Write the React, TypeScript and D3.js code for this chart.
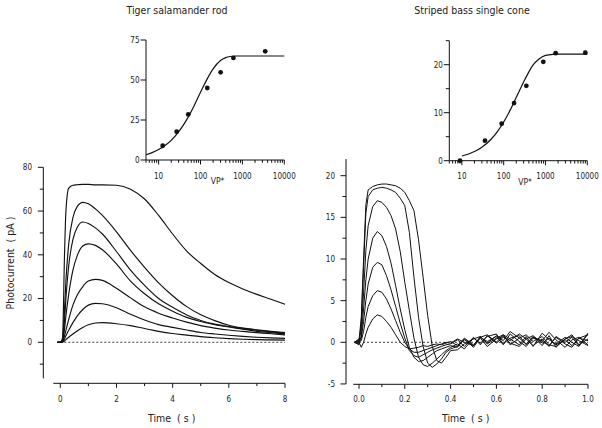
import React from 'react';
import * as d3 from 'd3';

// ---------- Inset data ----------
const rodIntensity = [12.5, 27, 51, 145, 302, 610, 3500];
const rodAmplitude = [8.9, 17.7, 28.5, 45, 54.8, 63.8, 67.9];
const rodFitX = [5, 7, 10, 15, 20, 30, 40, 50, 70, 100, 150, 200, 300, 400, 500, 700, 1000, 10000];
const rodFitY = [3.3, 4.6, 6.5, 9.5, 12.3, 17.6, 22.3, 26.5, 33.8, 42.3, 51.5, 57.0, 62.2, 64.0, 64.7, 65, 65, 65];

const coneIntensity = [9, 35.7, 89.5, 177, 348, 887, 1750, 8970];
const coneAmplitude = [0, 4.17, 7.7, 12.0, 15.6, 20.6, 22.4, 22.5];
const coneFitX = [10, 15, 20, 30, 50, 70, 100, 150, 200, 300, 400, 500, 700, 1000, 1500, 2000, 10000];
const coneFitY = [0.98, 1.45, 1.91, 2.8, 4.47, 6.0, 8.05, 10.9, 13.2, 16.4, 18.5, 19.9, 21.2, 21.95, 22.17, 22.2, 22.2];

const logTickValues = [10, 100, 1000, 10000];
const logTickLabels = ['10', '100', '1000', '10000'];
const rodInsetYTicks = [0, 25, 50, 75];
const coneInsetYMajor = [0, 10, 20];
const coneInsetYMinor = [5, 15, 25];

// ---------- Rod traces ----------
const rodTime = [-0.1, 0, 0.08, 0.15, 0.2, 0.3, 0.45, 0.6, 0.8, 1.0, 1.25, 1.5, 2, 2.5, 3, 3.5, 4, 4.5, 5, 5.5, 6, 6.5, 7, 7.5, 8];
const rodTrace1 = [0, 0, 2, 40, 60, 70.5, 71.8, 72, 72.2, 72.2, 72, 72, 71.8, 70, 65.5, 58, 49.5, 41.7, 36, 31, 27.3, 24.4, 21.9, 19.7, 17.4];
const rodTrace2 = [0, 0, 1, 15, 28, 45, 57, 62, 64, 63.3, 61, 58, 50.5, 42, 34.3, 27.2, 21.3, 16.3, 12.6, 9.9, 7.8, 6.5, 5.7, 5, 4.4];
const rodTrace3 = [0, 0, 0.8, 10, 20, 35, 47, 52.5, 55, 54.3, 52.3, 49.5, 41.5, 33, 26, 20, 16, 12.5, 10, 8.3, 7.2, 6.4, 5.5, 4.8, 4.1];
const rodTrace4 = [0, 0, 0.5, 6, 12, 22, 33, 39.5, 44, 45, 44.3, 42.3, 35.8, 28, 22.2, 17.6, 14.2, 11.4, 9.5, 8, 7, 6, 5, 4.4, 3.8];
const rodTrace5 = [0, 0, 0.3, 3, 5.5, 10.5, 17, 21.5, 25.5, 28, 28.8, 28.3, 24.7, 20.3, 16.2, 13.3, 11.1, 9.2, 7.6, 6.5, 5.6, 5, 4.4, 3.9, 3.4];
const rodTrace6 = [0, 0, 0.2, 1.5, 3, 5.5, 9, 12, 15, 17, 17.8, 17.6, 15.8, 12.8, 10.2, 8.1, 6.8, 5.6, 4.5, 3.8, 3.2, 2.7, 2.3, 2, 1.8];
const rodTrace7 = [0, 0, 0.1, 0.6, 1.2, 2.3, 3.8, 5.2, 6.8, 8, 8.8, 9, 8.5, 7.6, 6.3, 5, 4, 3.3, 2.6, 2.1, 1.7, 1.4, 1.2, 1.1, 1];
const rodTraces = [rodTrace1, rodTrace2, rodTrace3, rodTrace4, rodTrace5, rodTrace6, rodTrace7];
const rodXMajor = [0, 2, 4, 6, 8];
const rodXMinor = [1, 3, 5, 7];
const rodYMajor = [0, 20, 40, 60, 80];
const rodYMinor = [-10, 10, 30, 50, 70];

// ---------- Cone traces ----------
const coneTime = [-0.02, 0, 0.01, 0.02, 0.03, 0.04, 0.06, 0.08, 0.10, 0.12, 0.14, 0.16, 0.18, 0.20, 0.22, 0.24, 0.26, 0.28, 0.30, 0.32, 0.34, 0.36, 0.38, 0.40, 0.43, 0.46, 0.50, 0.53, 0.56, 0.60, 0.63, 0.66, 0.70, 0.73, 0.76, 0.80, 0.83, 0.86, 0.90, 0.93, 0.96, 1.00];
const coneTrace1 = [0, 0.2, 3, 10, 16.5, 18.3, 18.7, 18.9, 19, 19, 18.9, 18.8, 18.5, 18, 17, 15.8, 12.3, 7.8, 3.2, -0.5, -2.2, -2.5, -1.8, -1.0, -0.9, -0.2, 0.4, 0.7, -0.1, 0.8, 0.2, 1.3, 0.5, -0.2, 0.6, 0.1, -0.4, 0.6, -0.2, -0.6, 0.5, 0.9];
const coneTrace2 = [0, -0.2, 2.5, 9, 15.5, 17.5, 18.3, 18.5, 18.6, 18.5, 18.3, 18, 17.3, 16.4, 13.2, 7.8, 3, -0.5, -2.5, -3, -2.6, -2, -1.2, -0.8, -0.5, 0.3, -0.4, 0.6, 0.9, 0.0, 0.9, 0.4, -0.3, 0.7, -0.5, 1.1, 0.3, -0.2, 0.6, 0.0, -0.5, 1.0];
const coneTrace3 = [0, 0.3, 1.5, 6, 11, 14, 16.3, 17, 16.8, 16.2, 15.2, 13.6, 10.9, 7.2, 3.8, 0.5, -1.8, -2.7, -2.9, -2.5, -2, -1.5, -1, -0.6, -0.2, -0.8, 0.5, -0.1, 0.7, 1.0, -0.2, 0.5, 0.8, -0.3, 0.7, -0.4, 0.8, -0.6, 0.4, 0.9, -0.3, 0.4];
const coneTrace4 = [0, -0.3, 0.8, 4, 7.5, 10, 12.5, 13.3, 12.8, 11.5, 9.5, 6.8, 4, 1.5, -0.6, -1.8, -2.3, -2.2, -1.8, -1.4, -1, -0.8, -0.6, -0.4, -0.6, 0.4, -0.6, 0.6, 0.1, 0.7, -0.3, 1.0, 0.1, -0.5, 0.5, 0.2, 1.2, 0.3, -0.6, 0.3, 0.6, -0.3];
const coneTrace5 = [0, 0.4, 0.5, 2.5, 5, 7, 9, 9.6, 9.3, 8, 6.3, 4.3, 2.3, 0.5, -1, -1.6, -1.8, -1.5, -1.2, -0.9, -0.7, -0.5, -0.3, -0.2, 0.3, -0.5, 0.6, -0.3, 0.8, -0.1, 0.6, 0.2, 1.0, 0.4, -0.4, 0.4, -0.5, 0.7, 0.0, 0.6, -0.4, 1.1];
const coneTrace6 = [0, 0.1, 0.2, 1.3, 3, 4.3, 5.6, 6.2, 6, 5.2, 4, 2.6, 1.2, 0, -0.8, -1.2, -1.2, -1, -0.8, -0.6, -0.4, -0.2, 0, -0.1, 0.4, 0.0, -0.4, 0.7, -0.2, 0.5, 0.9, -0.3, 0.5, 0.9, 0.1, 0.7, -0.3, -0.5, 0.4, 0.7, 0.2, -0.4];
const coneTrace7 = [0, 0, -0.6, 0, 1, 1.8, 2.8, 3.3, 3.1, 2.5, 1.8, 0.9, 0, -0.5, -0.8, -0.7, -0.6, -0.4, -0.5, -0.3, -0.2, -0.3, -0.1, 0.1, -0.4, 0.5, -0.3, 0.5, -0.5, 0.4, 0.7, -0.1, -0.5, 0.4, 0.8, -0.1, 0.5, -0.3, 0.3, -0.4, 0.5, 0.2];
const coneTraces = [coneTrace1, coneTrace2, coneTrace3, coneTrace4, coneTrace5, coneTrace6, coneTrace7];
const coneXMajor = [0, 0.2, 0.4, 0.6, 0.8, 1.0];
const coneXMinor = [0.1, 0.3, 0.5, 0.7, 0.9];
const coneYMajor = [-5, 0, 5, 10, 15, 20];
const coneYMinor = [-2.5, 2.5, 7.5, 12.5, 17.5];

const FONT = "'DejaVu Sans Condensed', 'DejaVu Sans', sans-serif";
const INK = '#111';

function YAxis({ scale, x, from, to, major, minor, labels, labelX, fs }: any) {
  return (
    <g>
      <line x1={x} x2={x} y1={from} y2={to} stroke={INK} strokeWidth={1} />
      {major.map((v: number, i: number) => (
        <g key={'M' + i}>
          <line x1={x - 5.5} x2={x} y1={scale(v)} y2={scale(v)} stroke={INK} strokeWidth={1} />
          {labels ? (
            <text x={labelX} y={scale(v) + fs * 0.36} textAnchor="end" fontSize={fs} fontFamily={FONT} fill="#222">
              {labels[i]}
            </text>
          ) : null}
        </g>
      ))}
      {minor.map((v: number, i: number) => (
        <line key={'m' + i} x1={x - 3.5} x2={x} y1={scale(v)} y2={scale(v)} stroke={INK} strokeWidth={1} />
      ))}
    </g>
  );
}

function XAxis({ scale, y, from, to, major, minor, labels, labelY, fs }: any) {
  return (
    <g>
      <line x1={from} x2={to} y1={y} y2={y} stroke={INK} strokeWidth={1} />
      {major.map((v: number, i: number) => (
        <g key={'M' + i}>
          <line x1={scale(v)} x2={scale(v)} y1={y} y2={y + 4.5} stroke={INK} strokeWidth={1} />
          <text x={scale(v)} y={labelY} textAnchor="middle" fontSize={fs} fontFamily={FONT} fill="#222">
            {labels[i]}
          </text>
        </g>
      ))}
      {minor.map((v: number, i: number) => (
        <line key={'m' + i} x1={scale(v)} x2={scale(v)} y1={y} y2={y + 2.8} stroke={INK} strokeWidth={1} />
      ))}
    </g>
  );
}

function Inset({ xs, ys, pts, fit, yMajor, yMinor, yLabels, title, titleX, vpX }: any) {
  const [x0, x1] = xs.range();
  const [y0, y1] = ys.range();
  const allTicks: number[] = xs.ticks();
  const minorTicks = allTicks.filter((v: number) => !logTickValues.includes(v));
  const line = d3
    .line<[number, number]>()
    .x((d) => xs(d[0]))
    .y((d) => ys(d[1]))
    .curve(d3.curveMonotoneX);
  const fitPts: [number, number][] = fit.x.map((v: number, i: number) => [v, fit.y[i]]);
  return (
    <g>
      <text x={titleX} y={13.5} textAnchor="middle" fontSize={10.5} fontFamily={FONT} fill="#222">
        {title}
      </text>
      <YAxis scale={ys} x={x0} from={y0} to={y1} major={yMajor} minor={yMinor} labels={yLabels} labelX={x0 - 6.5} fs={8} />
      <line x1={x0} x2={x1} y1={y0} y2={y0} stroke={INK} strokeWidth={1} />
      {logTickValues.map((v, i) => (
        <g key={'lt' + i}>
          <line x1={xs(v)} x2={xs(v)} y1={y0} y2={y0 + 4.5} stroke={INK} strokeWidth={1} />
          <text x={xs(v)} y={y0 + 18.5} textAnchor="middle" fontSize={8} fontFamily={FONT} fill="#222">
            {logTickLabels[i]}
          </text>
        </g>
      ))}
      {minorTicks.map((v, i) => (
        <line key={'mt' + i} x1={xs(v)} x2={xs(v)} y1={y0} y2={y0 + 2.8} stroke={INK} strokeWidth={1} />
      ))}
      <text x={vpX} y={y0 + 24} textAnchor="middle" fontSize={8.5} fontFamily={FONT} fill="#222">
        VP*
      </text>
      <path d={line(fitPts) || ''} fill="none" stroke={INK} strokeWidth={1.2} />
      {pts.x.map((v: number, i: number) => (
        <circle key={'p' + i} cx={xs(v)} cy={ys(pts.y[i])} r={2.4} fill={INK} />
      ))}
    </g>
  );
}

export default function App() {
  const rodInsetX = d3.scaleLog().domain([5, 10000]).range([146, 284.3]);
  const rodInsetY = d3.scaleLinear().domain([0, 75]).range([160, 40]);
  const coneInsetX = d3.scaleLog().domain([5, 10000]).range([449.3, 587.3]);
  const coneInsetY = d3.scaleLinear().domain([0, 25]).range([160.7, 40.7]);

  const rodX = d3.scaleLinear().domain([0, 8]).range([60.3, 285]);
  const rodY = d3.scaleLinear().domain([0, 80]).range([342.3, 167.3]);
  const coneX = d3.scaleLinear().domain([0, 1]).range([359, 588]);
  const coneY = d3.scaleLinear().domain([0, 20]).range([342.3, 175.7]);

  const rodLine = d3
    .line<number>()
    .x((_, i) => rodX(rodTime[i]))
    .y((d) => rodY(d))
    .curve(d3.curveMonotoneX);
  const coneLine = d3
    .line<number>()
    .x((_, i) => coneX(coneTime[i]))
    .y((d) => coneY(d))
    .curve(d3.curveLinear);

  return (
    <svg width={602} height={428} style={{ position: 'absolute', left: 0, top: 0, background: '#fff' }}>
      <rect x={0} y={0} width={602} height={428} fill="#fff" />
      <Inset
        xs={rodInsetX}
        ys={rodInsetY}
        pts={{ x: rodIntensity, y: rodAmplitude }}
        fit={{ x: rodFitX, y: rodFitY }}
        yMajor={rodInsetYTicks}
        yMinor={[]}
        yLabels={rodInsetYTicks.map(String)}
        title="Tiger salamander rod"
        titleX={177}
        vpX={217.5}
      />
      <Inset
        xs={coneInsetX}
        ys={coneInsetY}
        pts={{ x: coneIntensity, y: coneAmplitude }}
        fit={{ x: coneFitX, y: coneFitY }}
        yMajor={coneInsetYMajor}
        yMinor={coneInsetYMinor}
        yLabels={coneInsetYMajor.map(String)}
        title="Striped bass single cone"
        titleX={472}
        vpX={525}
      />

      {/* Rod main panel */}
      <YAxis scale={rodY} x={43.3} from={rodY(-16.5)} to={rodY(80)} major={rodYMajor} minor={rodYMinor} labels={rodYMajor.map(String)} labelX={32} fs={8} />
      <XAxis scale={rodX} y={383.3} from={rodX(-0.25)} to={rodX(8)} major={rodXMajor} minor={rodXMinor} labels={rodXMajor.map(String)} labelY={401.5} fs={8} />
      <line x1={rodX(0)} x2={rodX(8)} y1={rodY(0)} y2={rodY(0)} stroke={INK} strokeWidth={0.8} strokeDasharray="2,2" />
      {rodTraces.map((tr, i) => (
        <path key={'r' + i} d={rodLine(tr) || ''} fill="none" stroke={INK} strokeWidth={1.15} />
      ))}
      <text transform="translate(14,263) rotate(-90)" textAnchor="middle" fontSize={10.5} fontFamily={FONT} fill="#222" style={{ whiteSpace: 'pre' }}>
        {'Photocurrent  ( pA )'}
      </text>
      <text x={171.7} y={421.5} textAnchor="middle" fontSize={10.5} fontFamily={FONT} fill="#222" style={{ whiteSpace: 'pre' }}>
        {'Time  ( s )'}
      </text>

      {/* Cone main panel */}
      <YAxis scale={coneY} x={346} from={coneY(-5)} to={coneY(22)} major={coneYMajor} minor={coneYMinor} labels={coneYMajor.map(String)} labelX={335} fs={8} />
      <XAxis scale={coneX} y={384.3} from={coneX(-0.025)} to={coneX(1)} major={coneXMajor} minor={coneXMinor} labels={coneXMajor.map((v) => v.toFixed(1))} labelY={401.5} fs={8} />
      <line x1={coneX(0)} x2={coneX(1)} y1={coneY(0)} y2={coneY(0)} stroke={INK} strokeWidth={0.8} strokeDasharray="2,2" />
      {coneTraces.map((tr, i) => (
        <path key={'c' + i} d={coneLine(tr) || ''} fill="none" stroke={INK} strokeWidth={1} />
      ))}
      <text x={465.7} y={421.5} textAnchor="middle" fontSize={10.5} fontFamily={FONT} fill="#222" style={{ whiteSpace: 'pre' }}>
        {'Time  ( s )'}
      </text>
    </svg>
  );
}
